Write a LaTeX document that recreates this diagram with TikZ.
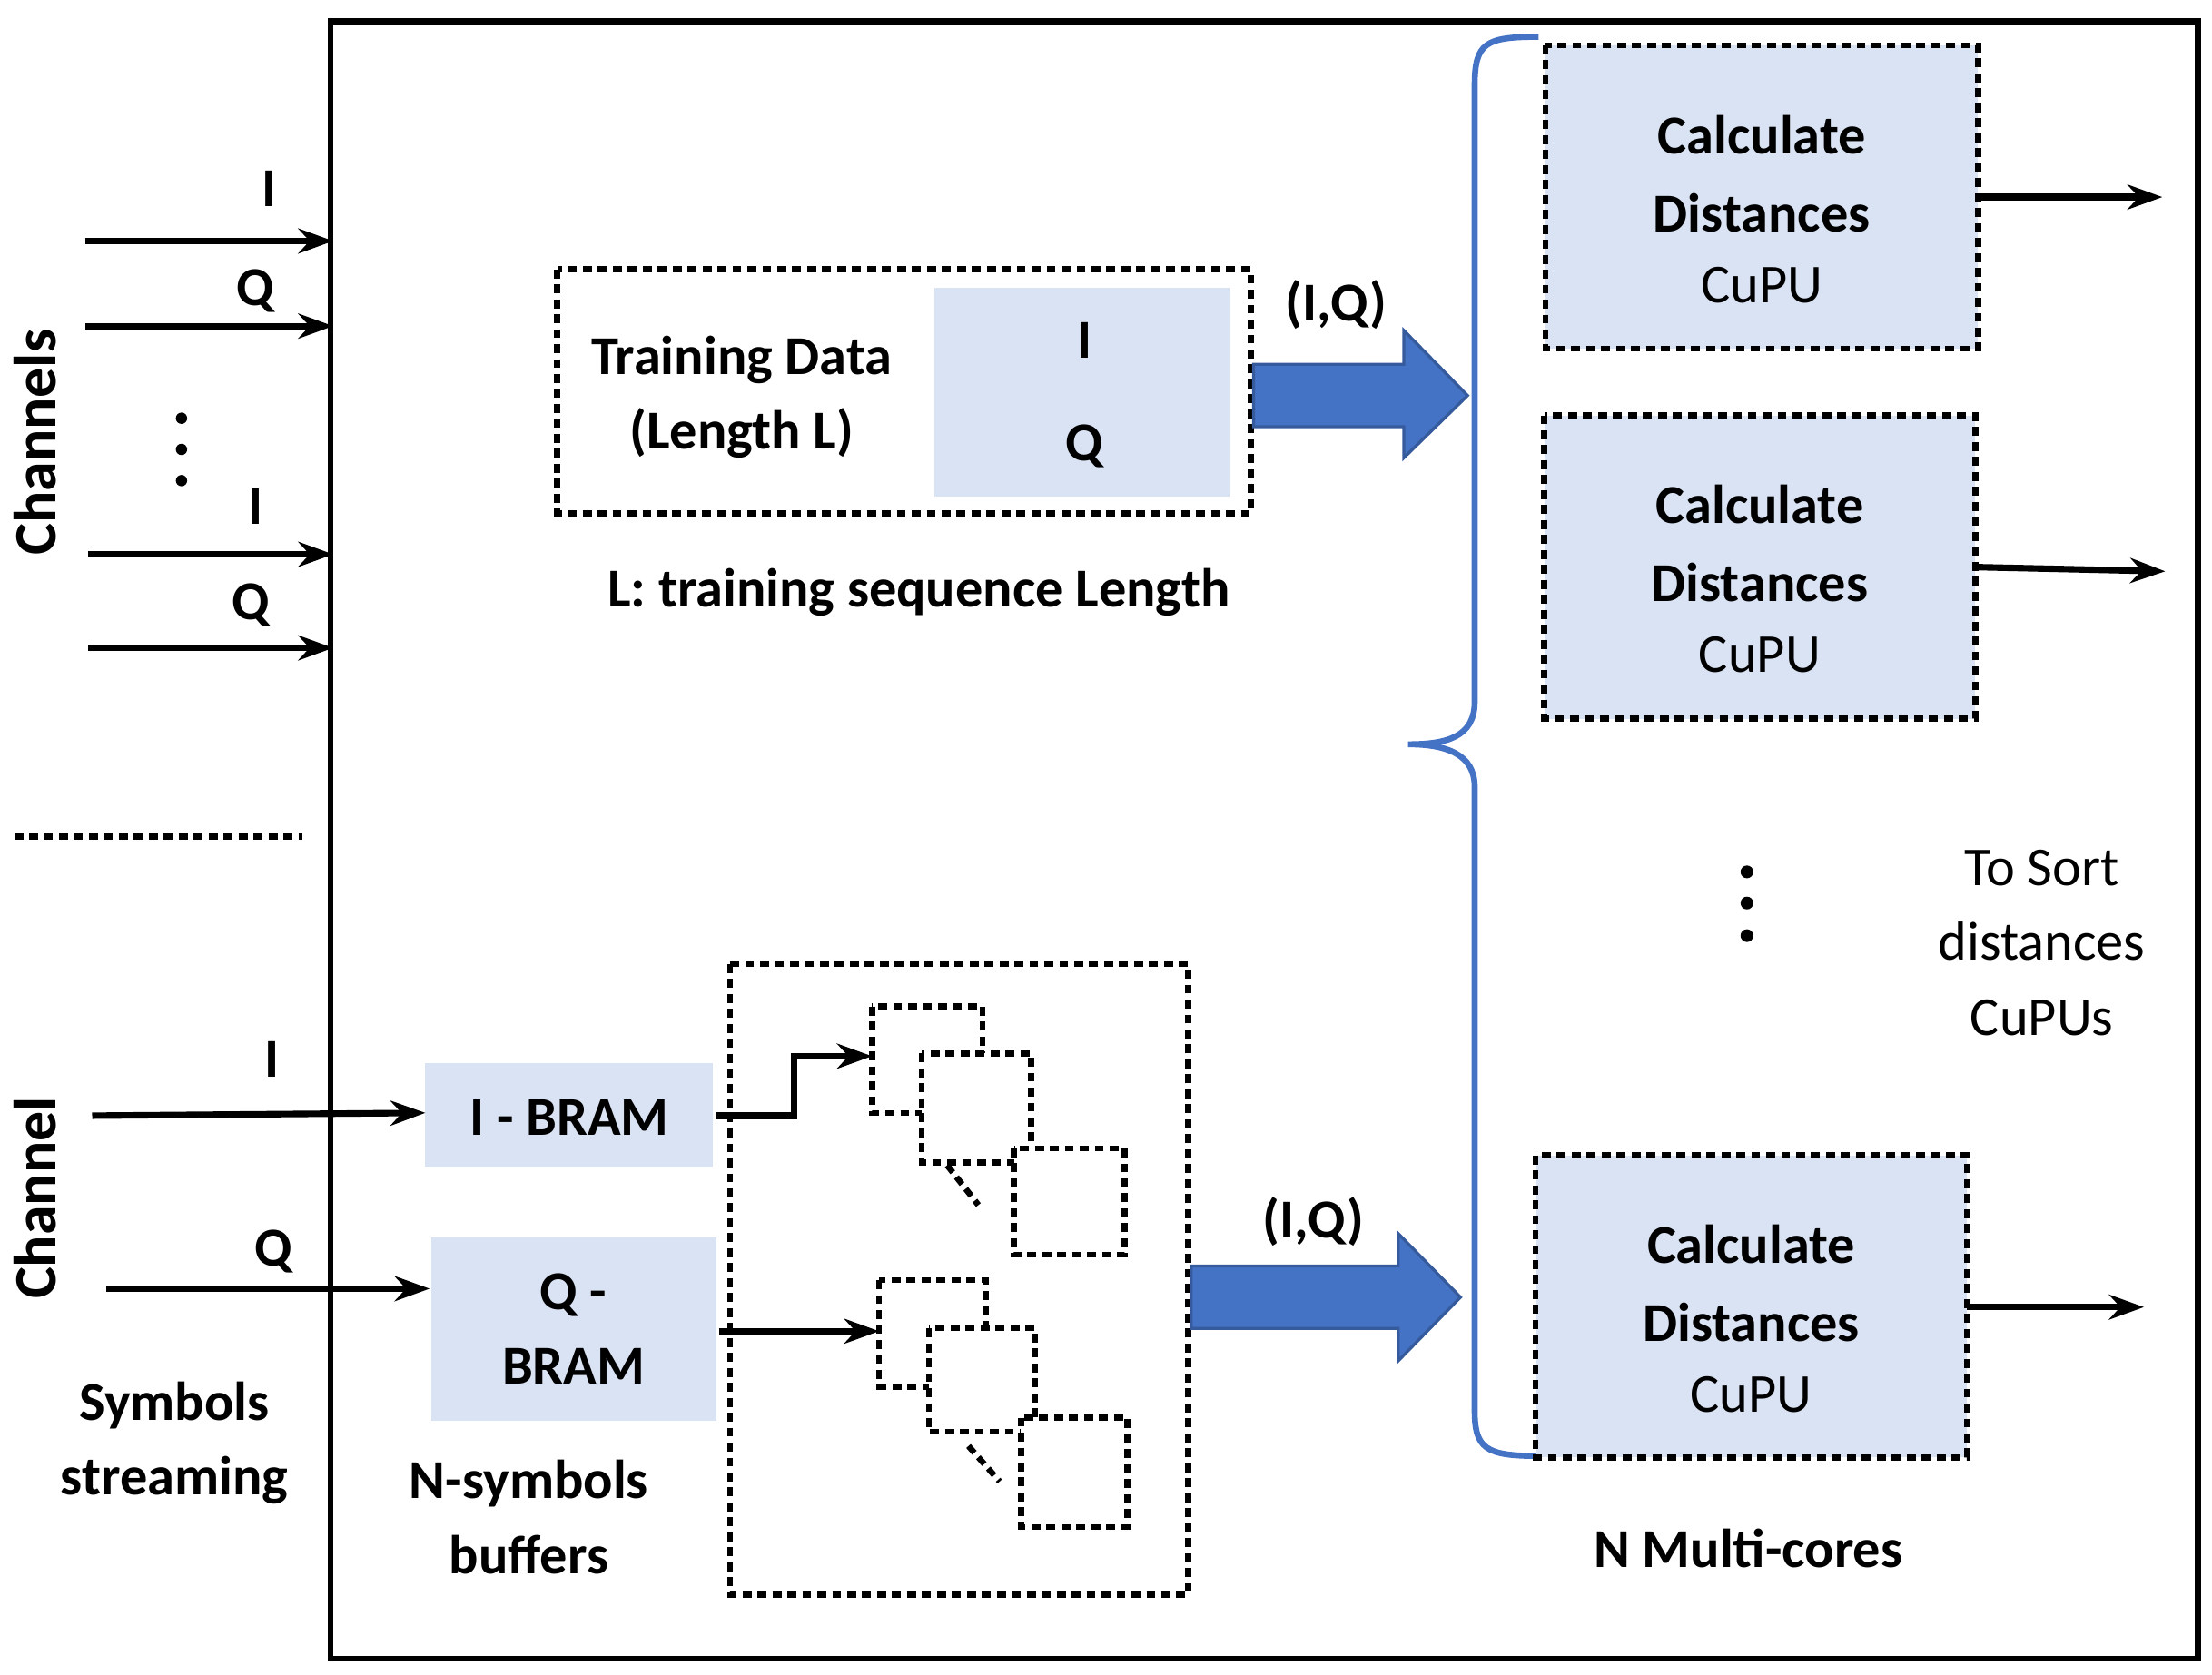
\documentclass[tikz,border=0pt]{standalone}
\usepackage{fontspec}
\setmainfont{Carlito}
\usetikzlibrary{arrows.meta}
\definecolor{lb}{HTML}{DAE3F3}
\definecolor{bl}{HTML}{4472C4}
\begin{document}
\begin{tikzpicture}[x=0.01cm,y=-0.01cm,
 txt/.style={font=\fontsize{11}{13.5}\selectfont\bfseries,align=center,inner sep=0},
 rtxt/.style={font=\fontsize{11}{13.5}\selectfont,align=center,inner sep=0},
 ar/.style={line width=1.3pt,-{Stealth[length=7pt,width=5pt]}},
 dot/.style={line width=1.2pt,dash pattern=on 1.8pt off 1.2pt},
 big/.style={fill=bl,draw=bl!80!black,line width=0.6pt}]
\useasboundingbox (0,0) rectangle (1560,1181);
\draw[line width=1.2pt] (233,15) rectangle (1550,1170);
% channels
\node[txt,rotate=90,font=\fontsize{12}{14}\selectfont\bfseries] (ch) at (25,312) {Channels};
\node[txt,rotate=90,font=\fontsize{12}{14}\selectfont\bfseries] (ch2) at (25,845) {Channel};
\coordinate (a1) at (60,170); \coordinate (b1) at (235,170);
\coordinate (a2) at (60,230); \coordinate (b2) at (235,230);
\coordinate (a3) at (62,391); \coordinate (b3) at (235,391);
\coordinate (a4) at (62,457); \coordinate (b4) at (235,457);
\draw[ar] (a1)--(b1); \draw[ar] (a2)--(b2); \draw[ar] (a3)--(b3); \draw[ar] (a4)--(b4);
\node[txt] (l1) at (190,133) {I};
\node[txt] (l2) at (180,205) {Q};
\node[txt] (l3) at (180,357) {I};
\node[txt] (l4) at (177,427) {Q};
\foreach \y in {295,317,339} \fill (128,\y) circle (4);
\draw[dot] (10,590)--(213,590);
% bottom channel
\fill[lb] (300,750) rectangle (503,823);
\fill[lb] (304,873) rectangle (505,1002);
\node[txt] (ib) at (401.5,788) {I - BRAM};
\node[txt] (qb) at (404.5,937.5) {Q -\\[1.5pt]BRAM};
\coordinate (a5) at (65,787); \coordinate (e5) at (300,785);
\coordinate (a6) at (75,909); \coordinate (e6) at (303,909);
\draw[ar] (a5)--(e5);
\draw[ar] (a6)--(e6);
\node[txt] (l5) at (192,747) {I};
\node[txt] (l6) at (193,883) {Q};
\node[txt] (ss) at (123,1018) {Symbols\\[1.5pt]streaming};
\node[txt] (nsb) at (373,1070) {N-symbols\\[1.5pt]buffers};
% buffers
\draw[dot] (515,680) rectangle (838,1125);
\draw[dot] (615,710) rectangle (693,785);
\draw[dot,fill=white] (650,743) rectangle (727,820);
\draw[dot,fill=white] (715,810) rectangle (793,885);
\draw[dot] (668,822)--(690,850);
\draw[dot] (620,903) rectangle (695,978);
\draw[dot,fill=white] (655,937) rectangle (730,1010);
\draw[dot,fill=white] (720,1000) rectangle (795,1077);
\draw[dot] (683,1020)--(705,1045);
\coordinate (r1) at (505,787); \coordinate (s1) at (615,745);
\coordinate (r2) at (507,939); \coordinate (s2) at (620,939);
\draw[ar] (r1) -- (560,787) -- (560,745) -- (s1);
\draw[ar] (r2) -- (s2);
% training
\draw[dot] (393,190) rectangle (882,362);
\fill[lb] (659,203) rectangle (868,350);
\node[txt] (ti) at (765,240) {I};
\node[txt] (tq) at (765,315) {Q};
\node[txt] (td) at (523,280) {Training Data\\[1.5pt](Length L)};
\node[txt] (tl) at (648,418) {L: training sequence Length};
\draw[big] (884,257) -- (990,257) -- (990,233) -- (1035,279) -- (990,323) -- (990,301) -- (884,301) -- cycle;
\node[txt] (iq1) at (942,215) {(I,Q)};
\draw[big] (840,893) -- (986,893) -- (986,870) -- (1030,915) -- (986,960) -- (986,937) -- (840,937) -- cycle;
\node[txt] (iq2) at (926,862) {(I,Q)};
% brace
\draw[bl,line width=1.2pt] (1085,26) .. controls (1048,26) and (1040,30) .. (1040,60) -- (1040,495) .. controls (1040,520) and (1020,525) .. (993,525) .. controls (1020,525) and (1040,532) .. (1040,555) -- (1040,995) .. controls (1040,1022) and (1048,1027) .. (1085,1027);
% CuPUs
\foreach \n/\x/\y/\X/\Y in {c1/1090/32/1395/246, c2/1089/293/1393/507, c3/1083/815/1387/1028}{
 \draw[dot,fill=lb] (\x,\y) rectangle (\X,\Y);
 \node[txt] at ({(\x+\X)/2},{(\y+\Y)/2-44}) {Calculate};
 \node[txt] at ({(\x+\X)/2},{(\y+\Y)/2+11}) {Distances};
 \node[rtxt] at ({(\x+\X)/2},{(\y+\Y)/2+62}) {CuPU};
}
\coordinate (p1) at (1395,139); \coordinate (o1) at (1525,139);
\coordinate (p2) at (1393,400); \coordinate (o2) at (1527,403);
\coordinate (p3) at (1387,922); \coordinate (o3) at (1512,922);
\draw[ar] (p1)--(o1);
\draw[ar] (p2)--(o2);
\draw[ar] (p3)--(o3);
\foreach \y in {615,637,660} \fill (1232,\y) circle (4.5);
\node[rtxt] (ts) at (1440,665) {To Sort\\[1.5pt]distances\\[1.5pt]CuPUs};
\node[txt] (nm) at (1233,1092) {N Multi-cores};
\end{tikzpicture}
\end{document}
